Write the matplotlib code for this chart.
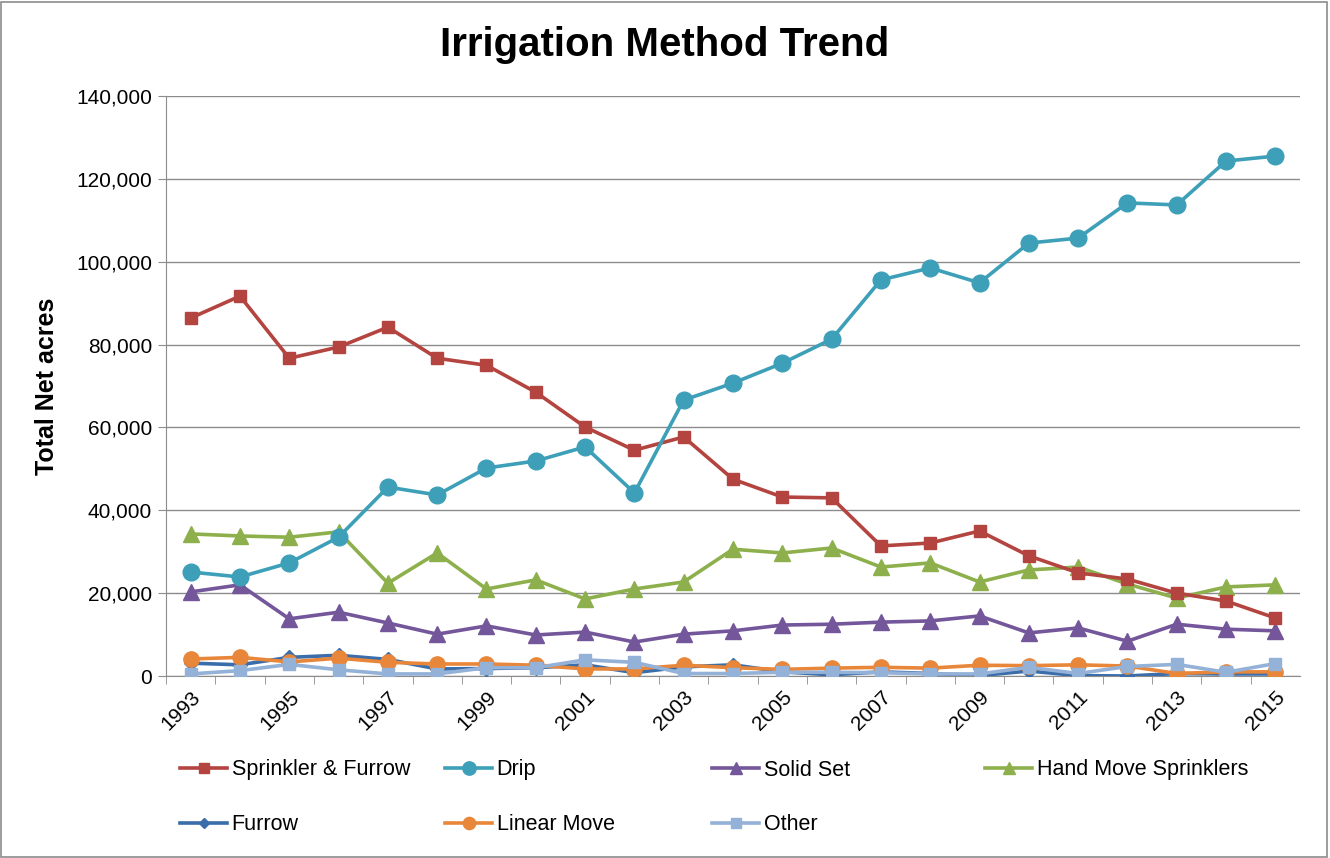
import matplotlib
matplotlib.use("Agg")
from matplotlib import pyplot as plt
from matplotlib.patches import Rectangle
from matplotlib.ticker import FuncFormatter

plt.rcParams['font.family'] = ['Liberation Sans', 'DejaVu Sans']

years = list(range(1993, 2016))

sprinkler_furrow = [86400, 91700, 76700, 79400, 84200, 76700, 75000, 68500, 60100, 54500, 57700, 47500,
                    43200, 43000, 31400, 32100, 35000, 29000, 24900, 23400, 20000, 18100, 14000]
drip = [25100, 23900, 27300, 33500, 45600, 43700, 50200, 51900, 55300, 44200, 66600, 70700,
        75500, 81300, 95600, 98500, 94900, 104500, 105700, 114200, 113700, 124300, 125500]
solid_set = [20300, 22000, 13800, 15400, 12800, 10100, 12100, 9900, 10600, 8200, 10100, 10900,
             12300, 12500, 13000, 13300, 14500, 10400, 11600, 8400, 12500, 11300, 10900]
hand_move = [34300, 33800, 33500, 34800, 22400, 29700, 21000, 23200, 18600, 21000, 22700, 30600,
             29700, 30900, 26300, 27300, 22700, 25600, 26300, 22200, 18800, 21500, 22000]
furrow = [3100, 2700, 4500, 5000, 4000, 1700, 1800, 2000, 2700, 800, 2200, 2700,
          1000, 300, 1000, 600, 100, 1200, 100, 0, 600, 500, 500]
linear_move = [4100, 4500, 3400, 4300, 3300, 2900, 2900, 2600, 1700, 1700, 2600, 2000,
               1600, 1900, 2100, 1900, 2600, 2500, 2700, 2400, 600, 1000, 1000]
other = [500, 1300, 2800, 1500, 500, 500, 2000, 2000, 3900, 3300, 600, 600,
         900, 900, 800, 500, 500, 2100, 600, 2300, 2800, 900, 3000]

fig = plt.figure(figsize=(13.3, 8.58), dpi=100)
ax = fig.add_axes([166 / 1330, 1 - 676 / 858, (1300 - 166) / 1330, (676 - 96) / 858])

series = [
    ("Furrow", furrow, "#3A6DAA", "D", 7),
    ("Linear Move", linear_move, "#E8863A", "o", 11),
    ("Other", other, "#94B1D8", "s", 9),
    ("Solid Set", solid_set, "#74569A", "^", 11),
    ("Hand Move Sprinklers", hand_move, "#8DB04C", "^", 11),
    ("Sprinkler & Furrow", sprinkler_furrow, "#B4443F", "s", 9),
    ("Drip", drip, "#3DA0B8", "o", 12),
]
lines = {}
for name, vals, col, mk, ms in series:
    ln, = ax.plot(years, vals, color=col, marker=mk, markersize=ms, linewidth=2.6,
                  markeredgecolor=col, zorder=3)
    lines[name] = ln

ax.set_xlim(1992.5, 2015.5)
ax.set_ylim(0, 140000)
ax.set_yticks(range(0, 140001, 20000))
ax.yaxis.set_major_formatter(FuncFormatter(lambda v, p: f"{int(v):,}"))
ax.grid(axis='y', color='#8c8c8c', linewidth=1)
ax.set_axisbelow(True)

ax.set_xticks(years[::2])
ax.set_xticklabels([str(y) for y in years[::2]], rotation=45, ha='right', rotation_mode='anchor')
ax.set_xticks([y + 0.5 for y in years[:-1]] + [1992.5], minor=True)
ax.tick_params(axis='x', which='major', length=0, pad=8, labelsize=15)
ax.tick_params(axis='x', which='minor', length=6, color='#8c8c8c', direction='out')
ax.tick_params(axis='y', length=6, color='#8c8c8c', labelsize=15, pad=4)

for s in ['top', 'right']:
    ax.spines[s].set_visible(False)
for s in ['left', 'bottom']:
    ax.spines[s].set_color('#8c8c8c')

ax.set_ylabel("Total Net acres", fontsize=18, fontweight='bold', labelpad=12)
fig.text(0.5, 1 - 45 / 858, "Irrigation Method Trend", ha='center', va='center',
         fontsize=29, fontweight='bold')

legend_pos = [
    ("Sprinkler & Furrow", 180, 770), ("Drip", 445, 770),
    ("Solid Set", 712, 770), ("Hand Move Sprinklers", 985, 770),
    ("Furrow", 180, 825), ("Linear Move", 445, 825), ("Other", 712, 825),
]
for name, px, py in legend_pos:
    fig.legend([lines[name]], [name], loc='center left', bbox_to_anchor=(px / 1330, 1 - py / 858),
               frameon=False, fontsize=15.5, handlelength=2.2, handletextpad=0.2,
               borderpad=0, borderaxespad=0, markerscale=0.8)

fig.patches.append(Rectangle((0.001, 0.001), 0.997, 0.997, transform=fig.transFigure,
                             fill=False, edgecolor='#8c8c8c', linewidth=1.2))

fig.savefig("out.png", dpi=100)
